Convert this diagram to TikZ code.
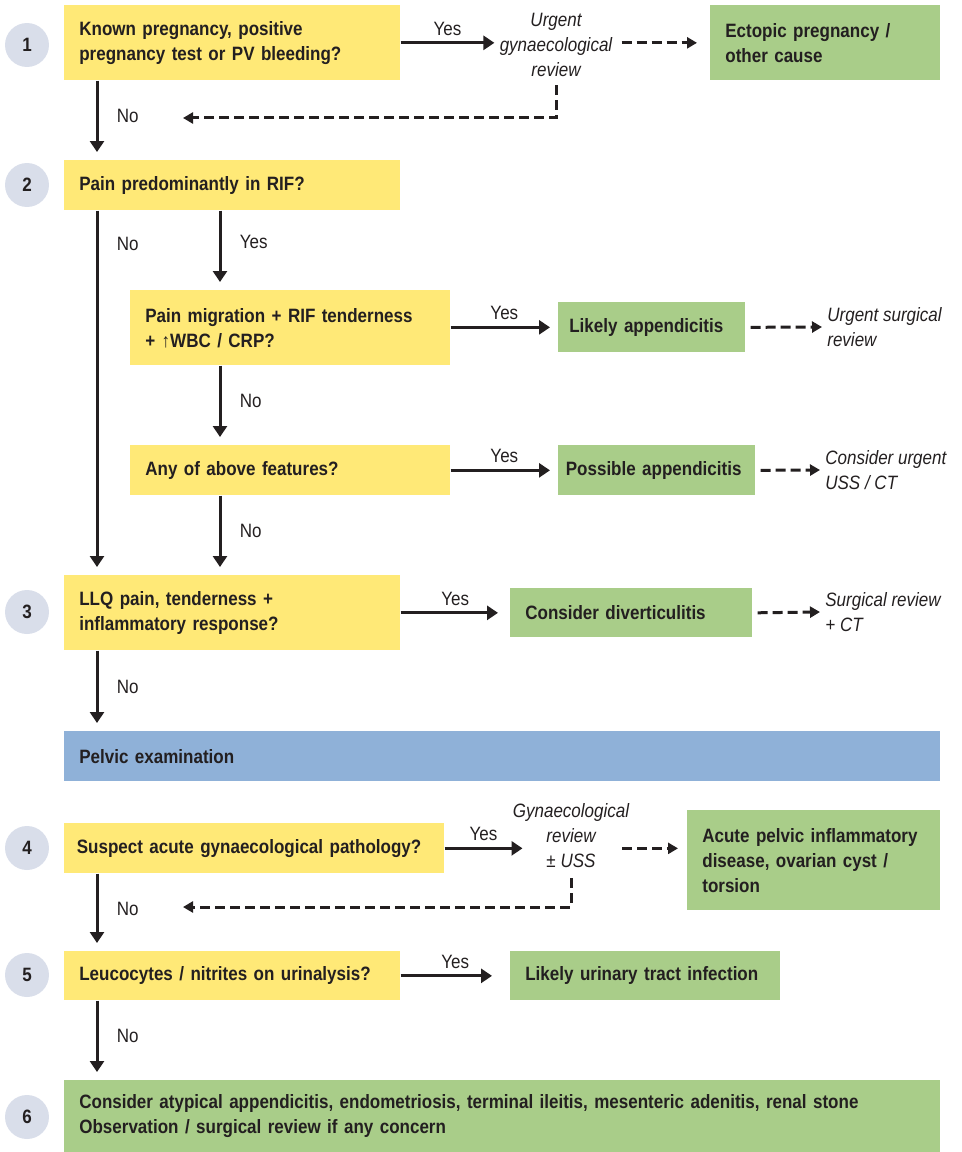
\documentclass[tikz,border=0pt]{standalone}
\usepackage{fontspec}
\setmainfont{Liberation Sans}[FakeStretch=0.88, BoldFeatures={WordSpace=0.6}]
\usetikzlibrary{arrows.meta}

\definecolor{qyellow}{HTML}{FFE977}
\definecolor{rgreen}{HTML}{A9CD89}
\definecolor{pblue}{HTML}{8FB1D8}
\definecolor{numgrey}{HTML}{D9DEEA}
\definecolor{ink}{HTML}{231F20}

\newcommand\flowsize{\fontsize{11}{14.2}\selectfont}

\tikzset{
  box/.style={anchor=north west, inner xsep=0.3cm, inner ysep=0pt, align=left,
    text=ink, font=\flowsize\bfseries},
  qbox/.style={box, fill=qyellow},
  rbox/.style={box, fill=rgreen},
  num/.style={circle, fill=numgrey, minimum size=0.88cm, inner sep=0pt,
    text=ink, font=\flowsize\bfseries},
  note/.style={inner sep=0.1cm, align=center, text=ink, font=\flowsize\itshape},
  lab/.style={text=ink, font=\flowsize},
  arr/.style={ink, line width=0.06cm, shorten >=0.16cm,
    -{Triangle[length=0.22cm,width=0.28cm]}},
  darr/.style={ink, line width=0.06cm, dash pattern=on 0.2cm off 0.1cm,
    -{Triangle[length=0.2cm,width=0.22cm]}}
}

\begin{document}
\begin{tikzpicture}[x=0.02cm, y=-0.02cm]
  \useasboundingbox (0,0) rectangle (961,1152);

  \coordinate (trunk) at (97,0);
  \coordinate (branch) at (220,0);
  \coordinate (back1) at (183,118);
  \coordinate (back4) at (183,907);

  \node[num] (n1) at (27,45) {1};
  \node[num] (n2) at (27,185) {2};
  \node[num] (n3) at (27,612) {3};
  \node[num] (n4) at (27,848) {4};
  \node[num] (n5) at (27,975) {5};
  \node[num] (n6) at (27,1117) {6};

  \node[qbox, text width=6.12cm, minimum height=1.5cm] (q1) at (64,5)
    {Known pregnancy, positive\\pregnancy test or PV bleeding?};
  \node[note] (t1) at (556,45) {Urgent\\gynaecological\\review};
  \node[rbox, text width=4cm, minimum height=1.5cm] (r1) at (710,5)
    {Ectopic pregnancy /\\other cause};

  \node[qbox, text width=6.12cm, minimum height=1cm] (q2) at (64,160)
    {Pain predominantly in RIF?};
  \node[qbox, text width=5.8cm, minimum height=1.5cm] (q2a) at (130,290)
    {Pain migration + RIF tenderness\\+ {\mdseries↑}WBC / CRP?};
  \node[rbox, inner xsep=0.22cm, text width=3.3cm, minimum height=1cm] (r2a) at (558,302)
    {Likely appendicitis};
  \node[note, anchor=west, align=left] (t2a) at (822,327)
    {Urgent surgical\\review};
  \node[qbox, text width=5.8cm, minimum height=1cm] (q2b) at (130,445)
    {Any of above features?};
  \node[rbox, inner xsep=0.15cm, text width=3.64cm, minimum height=1cm] (r2b) at (558,445)
    {Possible appendicitis};
  \node[note, anchor=west, align=left] (t2b) at (820,470)
    {Consider urgent\\USS / CT};

  \node[qbox, text width=6.12cm, minimum height=1.5cm] (q3) at (64,575)
    {LLQ pain, tenderness +\\inflammatory response?};
  \node[rbox, text width=4.24cm, minimum height=0.98cm] (r3) at (510,588)
    {Consider diverticulitis};
  \node[note, anchor=west, align=left] (t3) at (820,612)
    {Surgical review\\+ CT};

  \node[box, fill=pblue, text width=16.92cm, minimum height=1cm] (pe) at (64,731)
    {Pelvic examination};

  \node[qbox, inner xsep=0.25cm, text width=7.1cm, minimum height=1cm] (q4) at (64,823)
    {Suspect acute gynaecological pathology?};
  \node[note] (t4) at (571,836) {Gynaecological\\review\\± USS};
  \node[rbox, text width=4.46cm, minimum height=2cm] (r4) at (687,810)
    {Acute pelvic inflammatory\\disease, ovarian cyst /\\torsion};

  \node[qbox, text width=6.12cm, minimum height=0.98cm] (q5) at (64,951)
    {Leucocytes / nitrites on urinalysis?};
  \node[rbox, text width=4.8cm, minimum height=0.98cm] (r5) at (510,951)
    {Likely urinary tract infection};

  \node[rbox, text width=16.92cm, minimum height=1.44cm] (r6) at (64,1080)
    {Consider atypical appendicitis, endometriosis, terminal ileitis, mesenteric adenitis, renal stone\\
     Observation / surgical review if any concern};

  \coordinate (t4in) at ([xshift=0.3cm]t4.west);
  \coordinate (t4out) at ([xshift=-0.25cm]t4.east);

  \draw[arr, shorten >=0pt] (q1.east) -- node[lab, above] {Yes} (q1.east -| t1.west);
  \draw[darr, shorten <=0.08cm, shorten >=0.26cm] (t1.east |- q1.east) -- (r1.west);
  \draw[darr] ([yshift=-0.06cm]t1.south) |- (back1);
  \draw[arr] (trunk |- q1.south) -- node[lab, right=0.25cm, pos=0.45] {No} (trunk |- q2.north);

  \draw[arr] (trunk |- q2.south) -- node[lab, right=0.25cm, pos=0.09] {No} (trunk |- q3.north);
  \draw[arr] (branch |- q2.south) -- node[lab, right=0.25cm, pos=0.4] {Yes} (branch |- q2a.north);
  \draw[arr] (q2a.east |- r2a.west) -- node[lab, above] {Yes} (r2a.west);
  \draw[darr, shorten <=0.1cm] (r2a.east) -- (t2a.west);
  \draw[arr] (branch |- q2a.south) -- node[lab, right=0.25cm, pos=0.45] {No} (branch |- q2b.north);
  \draw[arr] (q2b.east |- r2b.west) -- node[lab, above] {Yes} (r2b.west);
  \draw[darr, shorten <=0.1cm] (r2b.east) -- (t2b.west);
  \draw[arr] (branch |- q2b.south) -- node[lab, right=0.25cm, pos=0.45] {No} (branch |- q3.north);

  \draw[arr, shorten >=0.24cm] (q3.east |- r3.west) -- node[lab, above] {Yes} (r3.west);
  \draw[darr, shorten <=0.1cm] (r3.east) -- (t3.west);
  \draw[arr] (trunk |- q3.south) -- node[lab, right=0.25cm, pos=0.45] {No} (trunk |- pe.north);

  \draw[arr, shorten >=0pt] (q4.east) -- node[lab, above] {Yes} (q4.east -| t4in);
  \draw[darr, shorten >=0.18cm] (t4out |- q4.east) -- (r4.west |- q4.east);
  \draw[darr] ([yshift=-0.1cm]t4.south) |- (back4);
  \draw[arr] (trunk |- q4.south) -- node[lab, right=0.25cm, pos=0.45] {No} (trunk |- q5.north);

  \draw[arr, shorten >=0.36cm] (q5.east) -- node[lab, above] {Yes} (r5.west);
  \draw[arr] (trunk |- q5.south) -- node[lab, right=0.25cm, pos=0.45] {No} (trunk |- r6.north);
\end{tikzpicture}
\end{document}
